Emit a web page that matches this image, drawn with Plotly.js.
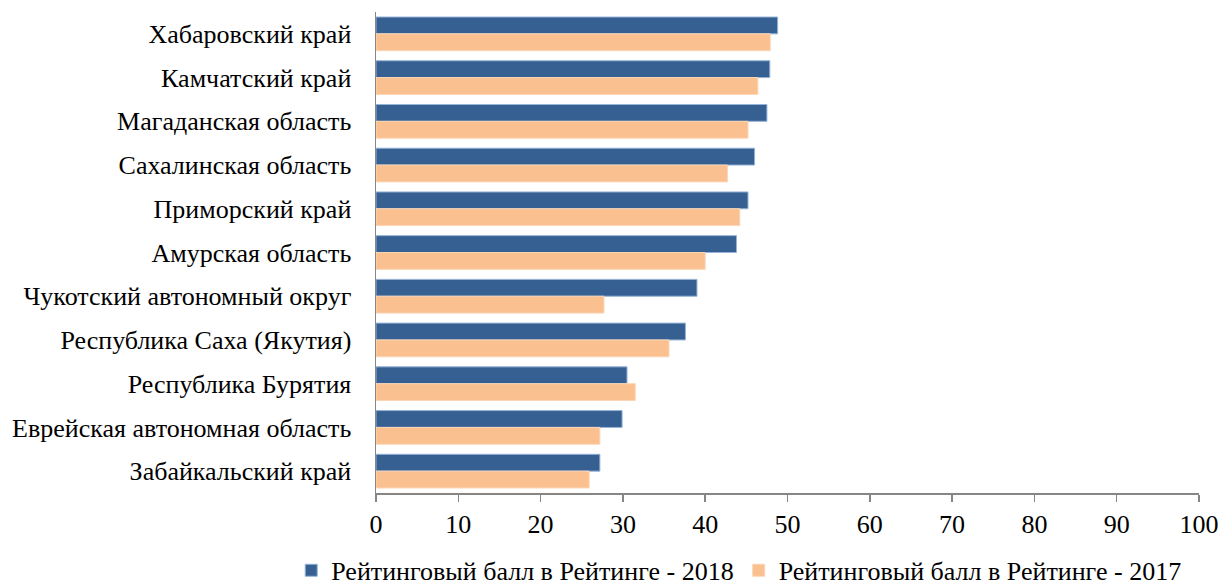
<!DOCTYPE html>
<html>
<head>
<meta charset="utf-8">
<script src="https://cdn.plot.ly/plotly-3.0.1.min.js"></script>
<style>html,body{margin:0;padding:0;background:#fff;}#chart{width:1222px;height:586px;}</style>
</head>
<body>
<div id="chart"></div>
<script>
var regions = ["Хабаровский край","Камчатский край","Магаданская область","Сахалинская область","Приморский край","Амурская область","Чукотский автономный округ","Республика Саха (Якутия)","Республика Бурятия","Еврейская автономная область","Забайкальский край"];
var score2018 = [48.8, 47.85, 47.5, 46.0, 45.2, 43.8, 39.0, 37.6, 30.5, 29.9, 27.2];
var score2017 = [47.9, 46.4, 45.2, 42.7, 44.2, 40.0, 27.7, 35.6, 31.5, 27.2, 25.9];
var name2018 = "Рейтинговый балл в Рейтинге - 2018";
var name2017 = "Рейтинговый балл в Рейтинге - 2017";
var xTicks = [0,10,20,30,40,50,60,70,80,90,100];

var font = {family: "Liberation Serif, Times New Roman, serif", size: 26, color: "#000"};
var data = [
  {type: "bar", orientation: "h", y: regions, x: score2018, name: name2018,
   marker: {color: "#366092", line: {color: "#95B3D7", width: 1}}},
  {type: "bar", orientation: "h", y: regions, x: score2017, name: name2017,
   marker: {color: "#FAC090", line: {color: "#FCD5B4", width: 1}}}
];
var layout = {
  width: 1222, height: 586,
  margin: {l: 376, r: 23, t: 12, b: 93, autoexpand: false},
  paper_bgcolor: "#fff", plot_bgcolor: "#fff",
  font: font,
  barmode: "group", bargap: 0.23, bargroupgap: 0,
  showlegend: true,
  legend: {orientation: "h", x: -0.103, xanchor: "left", xref: "paper", y: -0.112, yanchor: "top", yref: "paper",
           font: font, traceorder: "normal", itemwidth: 30, tracegroupgap: 0, bgcolor: "rgba(0,0,0,0)"},
  xaxis: {range: [0, 100], tickvals: xTicks, ticktext: xTicks.map(String), showgrid: false, zeroline: false,
          showline: true, linecolor: "#868686", linewidth: 1.5, ticks: "outside", ticklen: 7, tickcolor: "#868686", tickwidth: 1.5,
          tickfont: font, fixedrange: true},
  yaxis: {autorange: "reversed", showgrid: false, zeroline: false, showline: true, linecolor: "#868686", linewidth: 1.5,
          ticks: "", ticklen: 0, ticklabelstandoff: 18, tickfont: font, automargin: false, fixedrange: true}
};
Plotly.newPlot("chart", data, layout, {displayModeBar: false, staticPlot: true});
</script>
</body>
</html>
